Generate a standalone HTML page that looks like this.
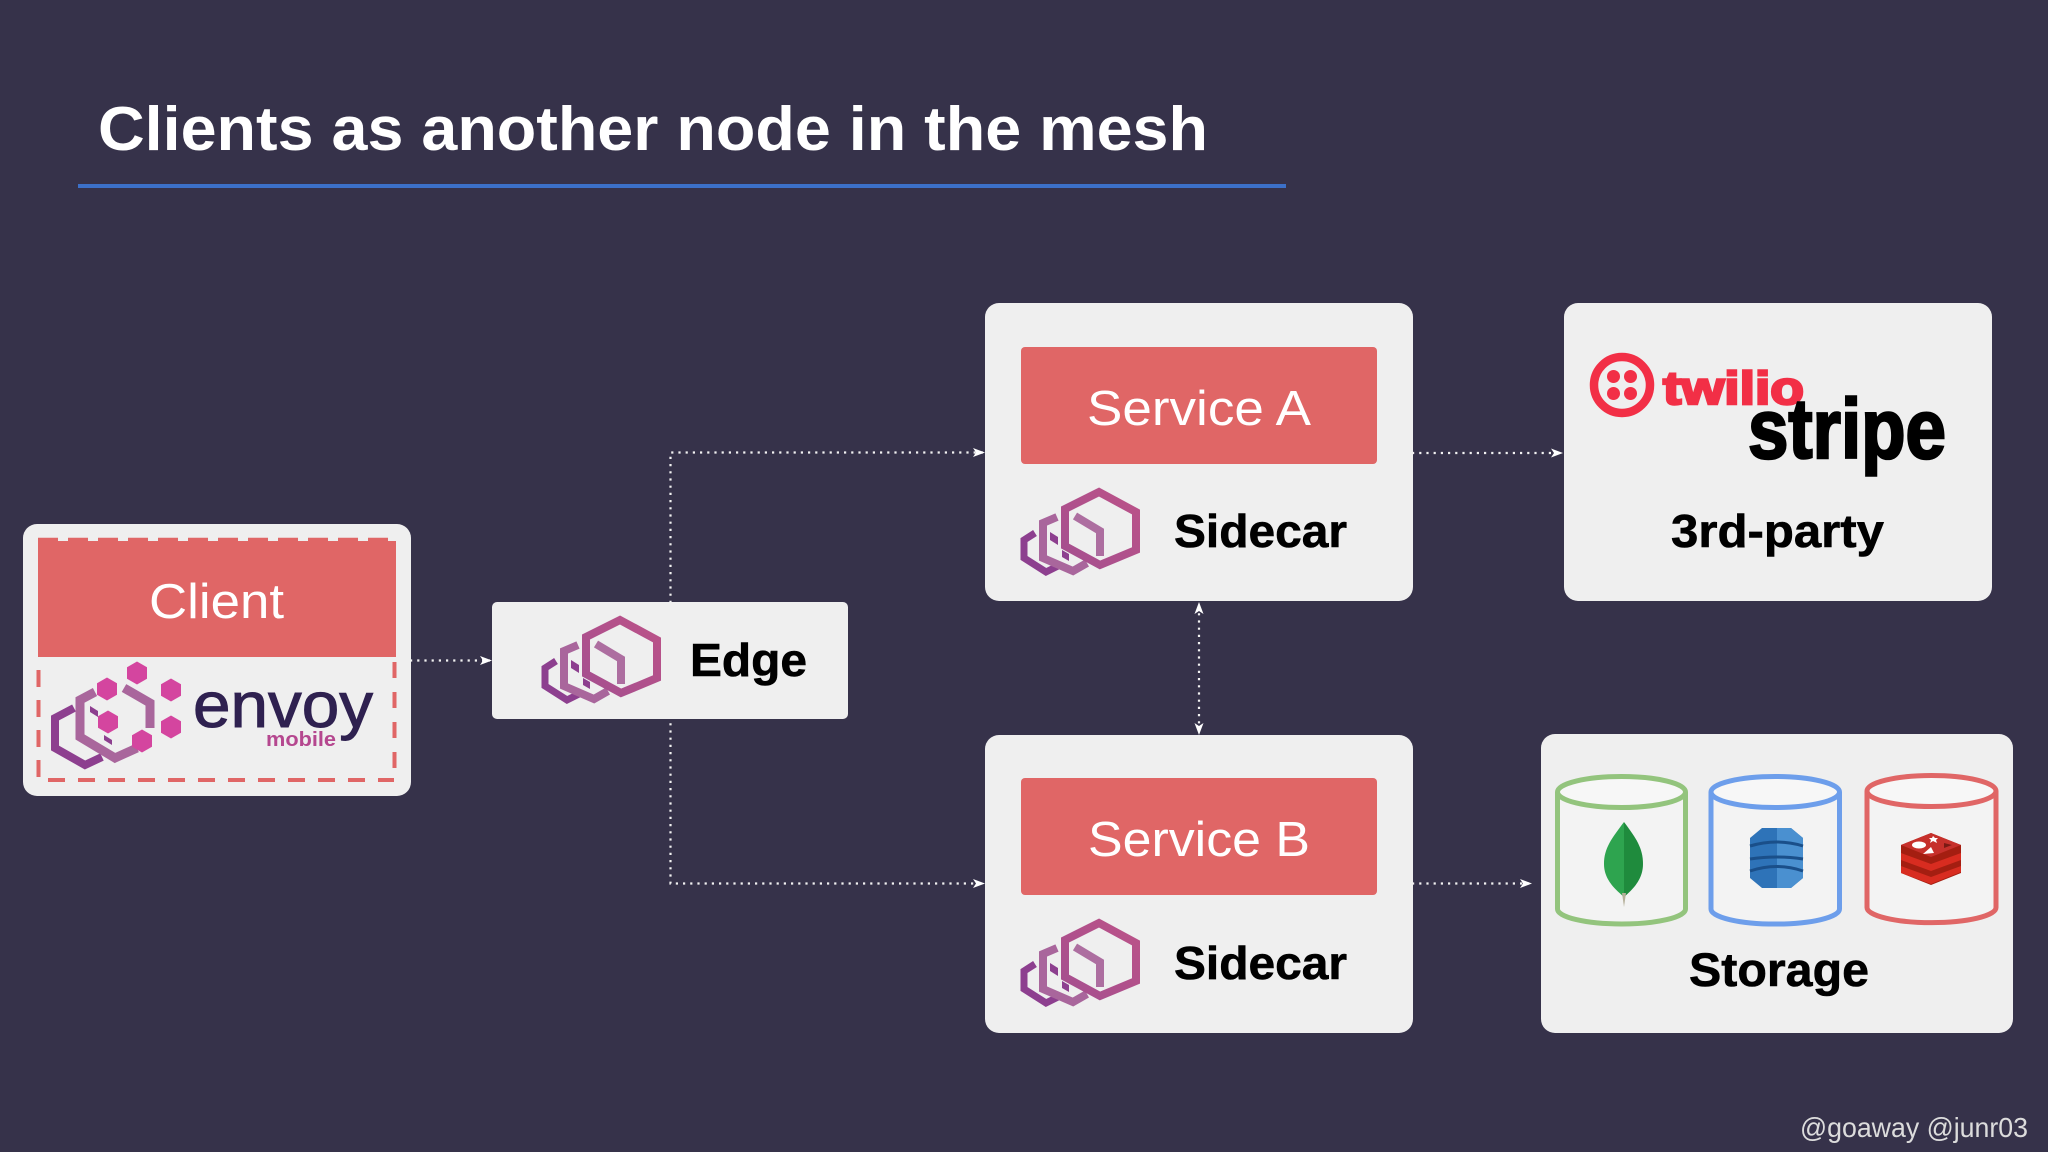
<!DOCTYPE html>
<html><head><meta charset="utf-8"><style>
html,body{margin:0;padding:0;background:#36324a;width:2048px;height:1152px;overflow:hidden}
svg{display:block}
text{font-family:"Liberation Sans",sans-serif}
.b{font-weight:bold;fill:#000}
.w{fill:#fff}
.dot{stroke:#f2f2f2;stroke-width:2.2;stroke-dasharray:2.2 5;fill:none}
</style></head><body>
<svg width="2048" height="1152" viewBox="0 0 2048 1152" xmlns="http://www.w3.org/2000/svg">
<defs>
<linearGradient id="g1" x1="0" y1="1" x2="1" y2="0"><stop offset="0" stop-color="#a54f8f"/><stop offset="1" stop-color="#bb5288"/></linearGradient>
<g id="env" fill="none" stroke-linejoin="miter">
<polyline points="25,53 14,60 14,78 36,92 48,86" stroke="#8d3f8f" stroke-width="7"/>
<polyline points="47,37 33,43 33,78 63,91 77,83" stroke="#a9669c" stroke-width="8"/>
<polygon points="40,52 48,57 48,65 40,60" fill="#8d3f8f"/>
<polygon points="52,70 59,74 59,81 52,77" fill="#8d3f8f"/>
<polyline points="65,36 90,51 90,76" stroke="#ad6ea0" stroke-width="8"/>
<polygon points="89,12 126,32 126,70 90,85 55,66 55,29" stroke="url(#g1)" stroke-width="8"/>
</g>
<polygon id="ph" points="0,-11.500 10,-5.800 10,5.800 0,11.500 -10,5.800 -10,-5.800" fill="#d4459f"/>
<polygon id="ah" points="0,0 -12,-4.500 -9,0 -12,4.500" fill="#fff"/>
</defs>

<rect width="2048" height="1152" fill="#36324a"/>

<text x="98" y="150" font-size="62" font-weight="bold" fill="#fff" textLength="1110" lengthAdjust="spacingAndGlyphs">Clients as another node in the mesh</text>
<rect x="78" y="184" width="1208" height="4" fill="#3c70c8"/>

<!-- connectors -->
<path class="dot" d="M983 452.500H670.500V883.500H983"/>
<path class="dot" d="M410 660.500H490"/>
<path class="dot" d="M1412 453H1561"/>
<path class="dot" d="M1412 883.500H1529"/>
<path class="dot" d="M1199 606V732"/>
<use href="#ah" transform="translate(985,452.500)"/>
<use href="#ah" transform="translate(985,883.500)"/>
<use href="#ah" transform="translate(492,660.500)"/>
<use href="#ah" transform="translate(1563,453)"/>
<use href="#ah" transform="translate(1532,883.500)"/>
<use href="#ah" transform="translate(1199,602) rotate(-90)"/>
<use href="#ah" transform="translate(1199,735) rotate(90)"/>

<!-- client -->
<rect x="23" y="524" width="388" height="272" rx="14" fill="#efefef"/>
<rect x="38" y="541" width="358" height="116" fill="#e06666"/>
<path d="M38 539.500H396" stroke="#e06666" stroke-width="3.500" stroke-dasharray="20 10" fill="none"/>
<text x="149" y="618" font-size="49" class="w" textLength="135" lengthAdjust="spacingAndGlyphs">Client</text>
<path d="M38.500 670V780" stroke="#e06666" stroke-width="4" stroke-dasharray="17 13" fill="none"/>
<path d="M394.500 662V770" stroke="#e06666" stroke-width="4" stroke-dasharray="16 14" fill="none"/>
<path d="M48 780H394" stroke="#e06666" stroke-width="4" stroke-dasharray="17 13" fill="none"/>
<g fill="none">
<polyline points="74,708 55,718 55,748 85,765 102,757" stroke="#8d3f8f" stroke-width="8"/>
<polyline points="95,692 80,700 80,737 115,758 137,748" stroke="#a9669c" stroke-width="9"/>
<polyline points="124,688 150,703 150,728" stroke="#a9669c" stroke-width="9"/>
</g>
<polygon points="90,706 98,711 98,717 90,712" fill="#8d3f8f"/>
<polygon points="104,735 112,740 112,745 104,740" fill="#8d3f8f"/>
<use href="#ph" x="137" y="673"/><use href="#ph" x="107" y="689"/><use href="#ph" x="171" y="690"/>
<use href="#ph" x="108" y="722"/><use href="#ph" x="171" y="727"/><use href="#ph" x="142" y="741"/>
<text x="193" y="727" font-size="64" fill="#2f2150" stroke="#2f2150" stroke-width="1" textLength="180" lengthAdjust="spacingAndGlyphs">envoy</text>
<text x="266" y="746" font-size="20" font-weight="bold" fill="#b5478f" textLength="70" lengthAdjust="spacingAndGlyphs">mobile</text>

<!-- edge -->
<rect x="492" y="602" width="356" height="117" rx="5" fill="#efefef"/>
<use href="#env" transform="translate(531,608)"/>
<text x="690" y="676" font-size="46" class="b" stroke="#000" stroke-width=".6" textLength="117" lengthAdjust="spacingAndGlyphs">Edge</text>

<!-- service A -->
<rect x="985" y="303" width="428" height="298" rx="14" fill="#efefef"/>
<rect x="1021" y="347" width="356" height="117" rx="4" fill="#e06666"/>
<text x="1087" y="425" font-size="49" class="w" textLength="224" lengthAdjust="spacingAndGlyphs">Service A</text>
<use href="#env" transform="translate(1010,480)"/>
<text x="1174" y="547" font-size="46" class="b" stroke="#000" stroke-width=".6" textLength="173" lengthAdjust="spacingAndGlyphs">Sidecar</text>

<!-- service B -->
<rect x="985" y="735" width="428" height="298" rx="14" fill="#efefef"/>
<rect x="1021" y="778" width="356" height="117" rx="4" fill="#e06666"/>
<text x="1088" y="856" font-size="49" class="w" textLength="222" lengthAdjust="spacingAndGlyphs">Service B</text>
<use href="#env" transform="translate(1010,911)"/>
<text x="1174" y="979" font-size="46" class="b" stroke="#000" stroke-width=".6" textLength="173" lengthAdjust="spacingAndGlyphs">Sidecar</text>

<!-- 3rd party -->
<rect x="1564" y="303" width="428" height="298" rx="14" fill="#efefef"/>
<circle cx="1622" cy="385" r="28" fill="none" stroke="#f22f46" stroke-width="8.500"/>
<g fill="#f22f46"><circle cx="1613.500" cy="376.500" r="6.500"/><circle cx="1630.500" cy="376.500" r="6.500"/><circle cx="1613.500" cy="393.500" r="6.500"/><circle cx="1630.500" cy="393.500" r="6.500"/></g>
<text x="1663" y="404" font-size="46" font-weight="bold" fill="#f22f46" stroke="#f22f46" stroke-width="2.500" textLength="141" lengthAdjust="spacingAndGlyphs">twilio</text>
<text x="1748" y="458" font-size="84" font-weight="bold" fill="#000" stroke="#000" stroke-width="2.500" textLength="198" lengthAdjust="spacingAndGlyphs">stripe</text>
<text x="1671" y="547" font-size="46" class="b" stroke="#000" stroke-width=".6" textLength="213" lengthAdjust="spacingAndGlyphs">3rd-party</text>

<!-- storage -->
<rect x="1541" y="734" width="472" height="299" rx="14" fill="#efefef"/>
<g fill="#f3f3f3" stroke-width="5">
<path d="M1557.500 792V909A64 15 0 0 0 1685.500 909V792" stroke="#93c47d"/>
<ellipse cx="1621.500" cy="792" rx="64" ry="15.500" fill="#f7f7f7" stroke="#93c47d"/>
<path d="M1711 792V909A64 15 0 0 0 1839.500 909V792" stroke="#6d9eeb"/>
<ellipse cx="1775.250" cy="792" rx="64.250" ry="15.500" fill="#f7f7f7" stroke="#6d9eeb"/>
<path d="M1867 791V907.500A64 15 0 0 0 1996 907.500V791" stroke="#e06666"/>
<ellipse cx="1931.500" cy="791" rx="64.500" ry="15.500" fill="#f7f7f7" stroke="#e06666"/>
</g>
<!-- mongo -->
<path d="M1624 822C1612 838 1604 848 1604 864C1604 880 1616 890 1624 897Z" fill="#2ea44f"/>
<path d="M1624 822C1636 838 1643 848 1643 864C1643 880 1632 890 1624 897Z" fill="#1f8b3d"/>
<path d="M1622 893L1624 907L1626 893Z" fill="#b5b09a"/>
<!-- dynamo -->
<path d="M1762 828H1791L1803 838V878L1791 888H1762L1750 878V838Z" fill="#2e73b8"/>
<path d="M1777 828H1791L1803 838V878L1791 888H1777Z" fill="#4a90d0"/>
<path d="M1750 846Q1777 838 1803 846M1750 859Q1777 855 1803 859M1750 871Q1777 862 1803 871" stroke="#1a4f8a" stroke-width="3" fill="none"/>
<!-- redis -->
<path d="M1901 845L1931 833L1961 845V873L1931 885L1901 873Z" fill="#a41e11"/>
<path d="M1901 853L1931 864L1961 853V860L1931 871L1901 860Z" fill="#d82c20"/>
<path d="M1901 866L1931 877L1961 866V872L1931 884L1901 873Z" fill="#d82c20"/>
<path d="M1901 845L1931 833L1961 845L1931 857Z" fill="#c6302b"/>
<ellipse cx="1919" cy="845" rx="7" ry="3.500" fill="#fff"/>
<path d="M1933 836l2 2h3l-2 2 1 3-4-2-3 2 1-3-2-2h3Z" fill="#fff"/>
<path d="M1923 854l11-1-3-6Z" fill="#fff"/>
<path d="M1944 843l8 2-8 3Z" fill="#7a1a14"/>
<text x="1689" y="986" font-size="47" class="b" stroke="#000" stroke-width=".6" textLength="180" lengthAdjust="spacingAndGlyphs">Storage</text>

<text x="1800" y="1137" font-size="28" fill="#dcdcdc" textLength="228" lengthAdjust="spacingAndGlyphs">@goaway @junr03</text>
</svg>
</body></html>
